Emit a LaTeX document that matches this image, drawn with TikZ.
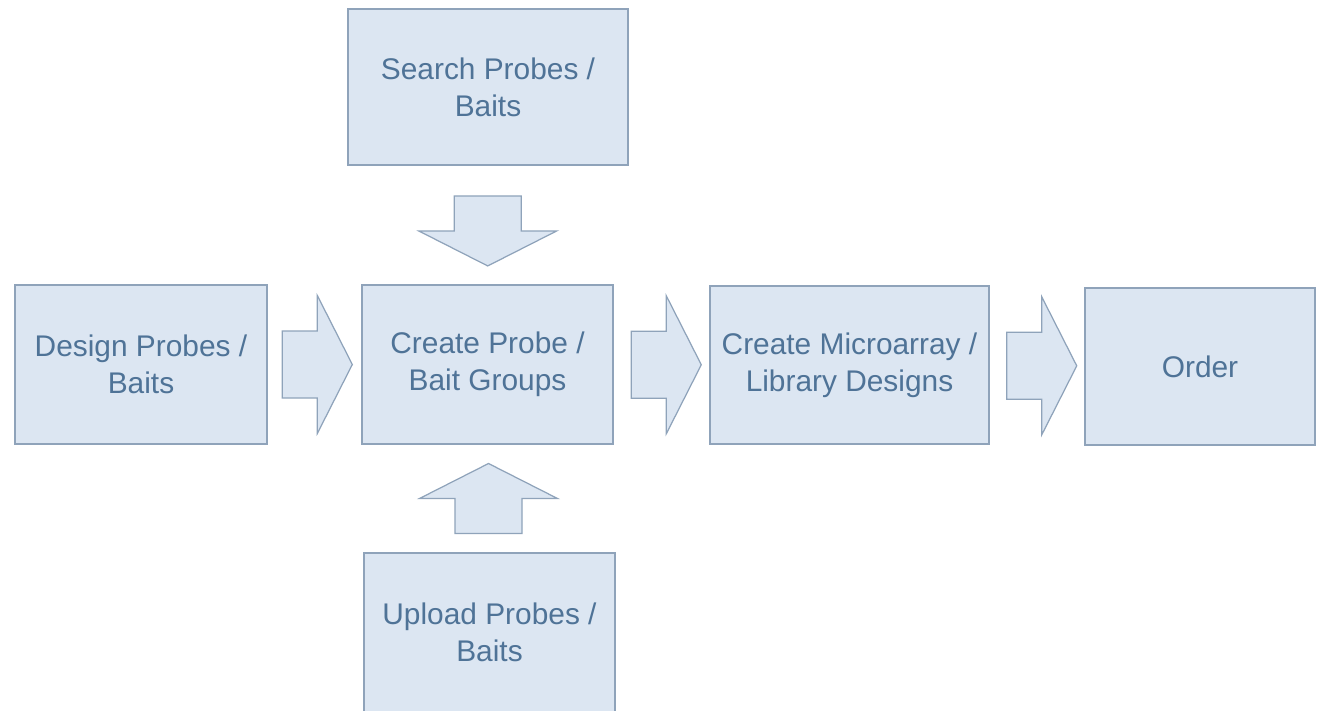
\documentclass[tikz,border=0pt]{standalone}
\usepackage{fontspec}
\setmainfont{Liberation Sans}
\usetikzlibrary{calc}
\definecolor{boxfill}{HTML}{DCE6F2}
\definecolor{boxline}{HTML}{8FA3BA}
\definecolor{boxtext}{HTML}{4F7397}
\begin{document}
\begin{tikzpicture}[x=0.02cm, y=-0.02cm,
        stage/.style={draw=boxline, fill=boxfill, text=boxtext, line width=0.8pt,
            align=center, inner sep=0pt, font=\fontsize{17}{21}\selectfont},
        blockarrow/.pic={
            \filldraw[fill=boxfill, draw=boxline, line width=0.7pt]
                (-35,-33.5) -- (0,-33.5) -- (0,-69) -- (35,0) -- (0,69) -- (0,33.5) -- (-35,33.5) -- cycle;
        }]
    \useasboundingbox (0,0) rectangle (1317,710);

    % boxes
    \node[stage, minimum width=5.6cm, minimum height=3.12cm] (search) at (488,87) {Search Probes /\\Baits};
    \node[stage, minimum width=5.04cm, minimum height=3.18cm] (design) at (141,364.5) {Design Probes /\\Baits};
    \node[stage, minimum width=5.02cm, minimum height=3.18cm] (create) at (487.5,364.5) {Create Probe /\\Bait Groups};
    \node[stage, minimum width=5.58cm, minimum height=3.16cm] (micro) at (849.5,365) {Create Microarray /\\Library Designs};
    \node[stage, minimum width=4.6cm, minimum height=3.14cm] (order) at (1200,366.5) {Order};
    \node[stage, minimum width=5.02cm, minimum height=3.18cm] (upload) at (489.5,632.5) {Upload Probes /\\Baits};

    % block arrows
    \pic at ($(design.east)!0.53!(create.west)$) {blockarrow};
    \pic at ($(create.east)!0.55!(micro.west)$) {blockarrow};
    \pic at ($(micro.east)!0.55!(order.west)$) {blockarrow};
    \pic[rotate=-90] at ($(search.south)!0.55!(create.north)$) {blockarrow};
    \pic[rotate=90] at ($(upload.north)!0.5!(create.south)$) {blockarrow};
\end{tikzpicture}
\end{document}
